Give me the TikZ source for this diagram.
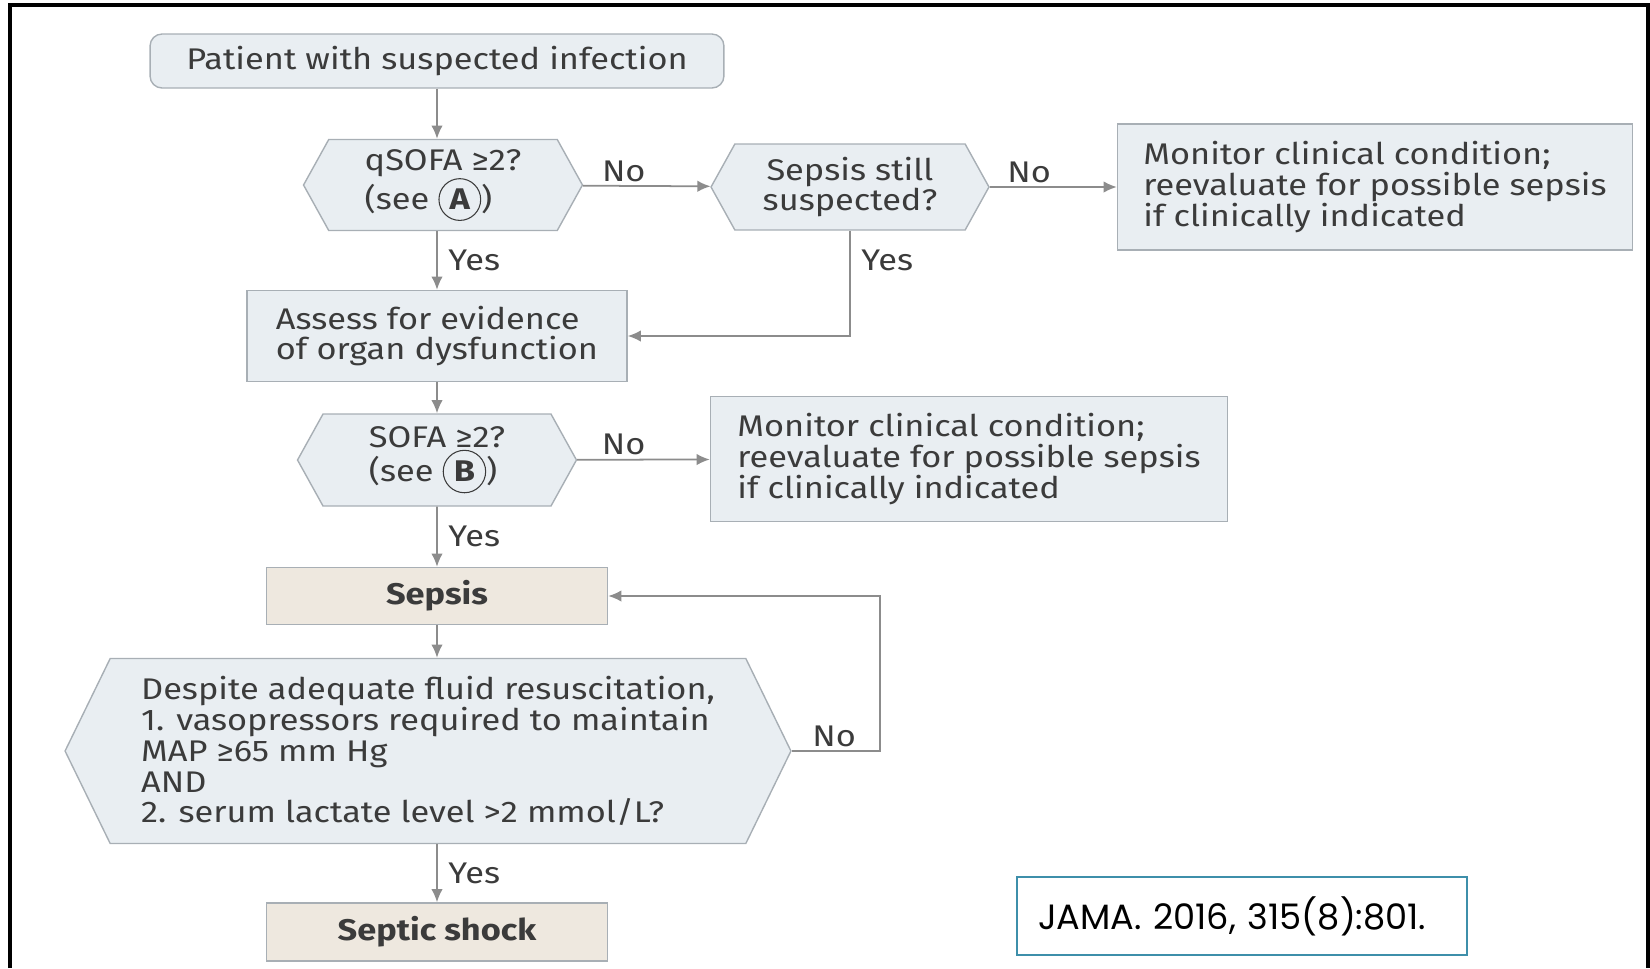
\documentclass[tikz,border=0pt]{standalone}
\usepackage{fontspec}
\setmainfont{Fira Sans}[FakeStretch=1.15]
\newfontfamily\citefont{Poppins}
\usetikzlibrary{positioning, arrows.meta, shapes.symbols}

\definecolor{boxfill}{HTML}{E9EEF2}
\definecolor{boxline}{HTML}{A8AFB5}
\definecolor{sepfill}{HTML}{EEE8DF}
\definecolor{linegrey}{HTML}{8C8C8C}
\definecolor{txt}{HTML}{3B3B3B}
\definecolor{citeline}{HTML}{3E8FAA}

\newcommand{\seeref}[1]{\tikz[baseline=(ltr.base)]\node[circle, draw=txt, line width=0.6pt,
  minimum size=0pt, inner sep=2.6pt, font=\bfseries] (ltr) {#1};}

\tikzset{
  box/.style={draw=boxline, fill=boxfill, line width=0.8pt, text=txt, align=left,
    inner sep=0pt, font=\fontsize{17}{17.6}\selectfont},
  hexa/.style={box, signal, signal to=east and west, signal pointer angle=122},
  result/.style={box, fill=sepfill, font=\fontsize{17}{17.6}\selectfont\bfseries},
  arr/.style={draw=linegrey, line width=1pt, -{Latex[length=7.5pt,width=6.5pt]}},
  lbl/.style={text=txt, font=\fontsize{17}{18}\selectfont, inner sep=2pt}
}

\begin{document}
\begin{tikzpicture}[x=0.02cm, y=-0.02cm]
\useasboundingbox (0,0) rectangle (1650,968);

%Frame
\draw[line width=2.3pt] (10,968) -- (10,5) -- (1648,5) -- (1648,968);

%Nodes
\node (patient) at (437,61) [box, rounded corners=0.24cm, minimum width=11.48cm,
  minimum height=1.08cm]{Patient with suspected infection};

\node (qsofa) at (443,185) [hexa, minimum width=5.58cm, minimum height=1.82cm]
  {qSOFA ≥2?\\(see \seeref{A})};

\node (stillq) at (850,187) [hexa, align=center, minimum width=5.56cm,
  minimum height=1.72cm]{Sepsis still\\suspected?};

\node (monitorA) at (1375,187) [box, minimum width=10.3cm, minimum height=2.52cm]
  {Monitor clinical condition;\\reevaluate for possible sepsis\\if clinically indicated};

\node (assess) at (437,336) [box, minimum width=7.6cm, minimum height=1.82cm]
  {Assess for evidence\\of organ dysfunction};

\node (sofa) at (437,460) [hexa, minimum width=5.58cm, minimum height=1.84cm]
  {SOFA ≥2?\\(see \seeref{B})};

\node (monitorB) at (969,459) [box, minimum width=10.34cm, minimum height=2.5cm]
  {Monitor clinical condition;\\reevaluate for possible sepsis\\if clinically indicated};

\node (sepsis) at (437,596) [result, minimum width=6.82cm, minimum height=1.14cm]{Sepsis};

\node (shockq) at (428,751) [hexa, signal pointer angle=128, minimum width=14.52cm,
  minimum height=3.7cm]{Despite adequate fluid resuscitation,\\1. vasopressors required to maintain\\MAP ≥65 mm Hg\\AND\\2. serum lactate level >2 mmol/L?};

\node (shock) at (437,932) [result, minimum width=6.82cm, minimum height=1.16cm]{Septic shock};

\node (cite) at (1242,916) [draw=citeline, line width=0.8pt, minimum width=9cm,
  minimum height=1.56cm, inner xsep=0.42cm, text width=8.16cm, align=left,
  font=\citefont\fontsize{20}{22}\selectfont]{JAMA. 2016, 315(8):801.};

\coordinate (back) at (880,596);

%Links
\draw[arr] (patient) -- (qsofa.north -| patient);
\draw[arr] (qsofa) -- node[lbl, pos=0.32, above]{No} (stillq);
\draw[arr] (stillq) -- node[lbl, pos=0.31, above]{No} (monitorA);
\draw[arr] (qsofa.south -| assess) -- node[lbl, right=4pt]{Yes} (assess);
\draw[arr] (stillq.south) |- node[lbl, pos=0.14, right=4pt]{Yes} (assess.east);
\draw[arr] (assess) -- (sofa);
\draw[arr] (sofa) -- node[lbl, pos=0.35, above]{No} (monitorB);
\draw[arr] (sofa) -- node[lbl, right=4pt]{Yes} (sepsis);
\draw[arr] (sepsis) -- (shockq.north -| sepsis);
\draw[arr] (shockq.east) -| node[lbl, pos=0.24, above]{No} (back) -- (sepsis.east);
\draw[arr] (shockq.south -| shock) -- node[lbl, right=4pt]{Yes} (shock);

\end{tikzpicture}
\end{document}
